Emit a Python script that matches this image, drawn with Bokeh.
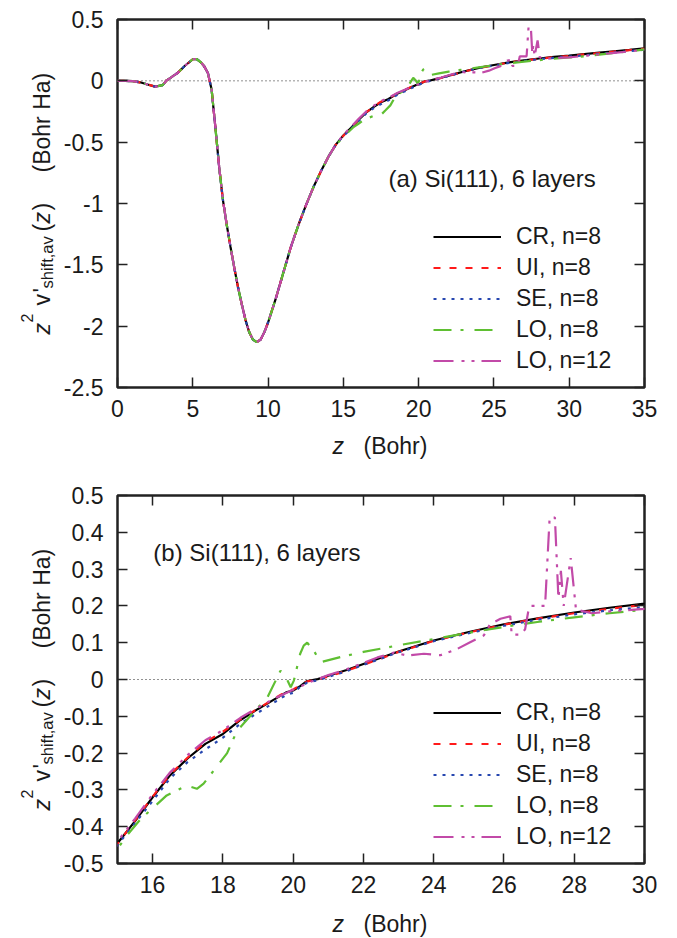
from math import pi
from bokeh.plotting import figure
from bokeh.models import Range1d, FixedTicker, LinearAxis, Span, Label, Legend, LegendItem
from bokeh.core.properties import value
from bokeh.layouts import column
from bokeh.embed import file_html
from bokeh.resources import INLINE

# ---------------- data ----------------
z_base = [0.0, 0.5, 1.0, 1.5, 2.0, 2.5, 3.0, 3.25, 3.5, 3.75,
          4.0, 4.5, 5.0, 5.25, 5.5, 5.75, 6.0, 6.25, 6.5, 6.75,
          7.0, 7.25, 7.5, 7.75, 8.0, 8.25, 8.5, 8.75, 9.0, 9.25,
          9.5, 9.75, 10.0, 10.5, 11.0, 11.5, 12.0, 12.5, 13.0, 13.5,
          14.0, 14.5, 15.0, 15.5, 16.0, 16.5, 17.0, 17.5, 18.0, 18.5,
          19.0, 19.5, 19.8, 20.0, 20.2, 20.4, 20.7, 21.0, 21.5, 22.0,
          23.0, 24.0, 25.0, 26.0, 27.0, 28.0, 29.0, 30.0, 31.0, 32.0,
          33.0, 34.0, 35.0]

cr_n8 = [0.0, 0.0, -0.003, -0.012, -0.03, -0.047, -0.035, 0.003, 0.022, 0.045,
         0.065, 0.125, 0.176, 0.178, 0.155, 0.12, 0.065, -0.07, -0.38, -0.7,
         -0.97, -1.17, -1.35, -1.52, -1.68, -1.82, -1.95, -2.05, -2.11, -2.13,
         -2.11, -2.05, -1.97, -1.78, -1.57, -1.36, -1.18, -1.02, -0.87, -0.74,
         -0.62, -0.52, -0.445, -0.385, -0.32, -0.26, -0.214, -0.175, -0.148, -0.11,
         -0.08, -0.052, -0.035, -0.03, -0.018, -0.004, 0.001, 0.01, 0.025, 0.042,
         0.076, 0.106, 0.129, 0.15, 0.167, 0.182, 0.195, 0.206, 0.218, 0.23,
         0.241, 0.252, 0.265]

ui_n8 = [0.0, 0.0, -0.003, -0.012, -0.03, -0.047, -0.035, 0.003, 0.022, 0.045,
         0.065, 0.125, 0.176, 0.178, 0.155, 0.12, 0.065, -0.07, -0.38, -0.7,
         -0.97, -1.17, -1.35, -1.52, -1.68, -1.82, -1.95, -2.05, -2.11, -2.13,
         -2.11, -2.05, -1.97, -1.78, -1.57, -1.36, -1.18, -1.02, -0.87, -0.74,
         -0.62, -0.52, -0.447, -0.383, -0.318, -0.258, -0.212, -0.17, -0.142, -0.108,
         -0.079, -0.05, -0.033, -0.027, -0.016, -0.005, 0.0, 0.008, 0.023, 0.04,
         0.075, 0.105, 0.128, 0.149, 0.166, 0.18, 0.192, 0.203, 0.215, 0.227,
         0.239, 0.25, 0.262]

se_n8 = [0.0, 0.0, -0.003, -0.012, -0.03, -0.047, -0.035, 0.003, 0.022, 0.045,
         0.065, 0.125, 0.176, 0.178, 0.155, 0.12, 0.065, -0.07, -0.38, -0.7,
         -0.97, -1.17, -1.35, -1.52, -1.68, -1.82, -1.95, -2.05, -2.11, -2.13,
         -2.11, -2.05, -1.97, -1.78, -1.57, -1.36, -1.18, -1.02, -0.87, -0.74,
         -0.62, -0.52, -0.45, -0.39, -0.33, -0.268, -0.224, -0.19, -0.158, -0.12,
         -0.09, -0.06, -0.042, -0.036, -0.02, -0.008, -0.002, 0.007, 0.022, 0.04,
         0.074, 0.104, 0.126, 0.146, 0.163, 0.177, 0.188, 0.197, 0.208, 0.22,
         0.231, 0.242, 0.254]

z_lo8 = [0.0, 0.5, 1.0, 1.5, 2.0, 2.5, 3.0, 3.25, 3.5, 3.75,
         4.0, 4.5, 5.0, 5.25, 5.5, 5.75, 6.0, 6.25, 6.5, 6.75,
         7.0, 7.25, 7.5, 7.75, 8.0, 8.25, 8.5, 8.75, 9.0, 9.25,
         9.5, 9.75, 10.0, 10.5, 11.0, 11.5, 12.0, 12.5, 13.0, 13.5,
         14.0, 14.5, 15.0, 15.3, 15.65, 16.0, 16.4, 16.97, 17.26, 17.45,
         17.8, 18.12, 18.4, 18.88, 19.26, 19.64, 19.8, 19.93, 20.02, 20.2,
         20.3, 20.4, 20.59, 20.78, 21.35, 22.0, 23.0, 24.0, 25.0, 26.0,
         27.0, 28.0, 29.0, 30.0, 31.0, 32.0, 33.0, 34.0, 35.0]
lo_n8 = [0.0, 0.0, -0.003, -0.012, -0.03, -0.047, -0.035, 0.003, 0.022, 0.045,
         0.065, 0.125, 0.176, 0.178, 0.155, 0.12, 0.065, -0.07, -0.38, -0.7,
         -0.97, -1.17, -1.35, -1.52, -1.68, -1.82, -1.95, -2.05, -2.11, -2.13,
         -2.11, -2.05, -1.97, -1.78, -1.57, -1.36, -1.18, -1.02, -0.87, -0.74,
         -0.62, -0.52, -0.46, -0.42, -0.38, -0.35, -0.315, -0.288, -0.297, -0.283,
         -0.24, -0.2, -0.14, -0.088, -0.05, 0.024, 0.005, -0.021, -0.003, 0.07,
         0.092, 0.1, 0.078, 0.047, 0.061, 0.075, 0.093, 0.11, 0.127, 0.143,
         0.157, 0.169, 0.18, 0.19, 0.2, 0.213, 0.227, 0.24, 0.256]

z_lo12 = [0.0, 0.5, 1.0, 1.5, 2.0, 2.5, 3.0, 3.25, 3.5, 3.75,
          4.0, 4.5, 5.0, 5.25, 5.5, 5.75, 6.0, 6.25, 6.5, 6.75,
          7.0, 7.25, 7.5, 7.75, 8.0, 8.25, 8.5, 8.75, 9.0, 9.25,
          9.5, 9.75, 10.0, 10.5, 11.0, 11.5, 12.0, 12.5, 13.0, 13.5,
          14.0, 14.5, 15.0, 15.5, 16.0, 16.5, 17.0, 17.5, 18.0, 18.5,
          19.0, 19.5, 20.0, 20.5, 21.0, 21.5, 22.0, 22.4, 22.87, 23.25,
          23.72, 24.19, 24.67, 25.05, 25.43, 25.6, 25.9, 26.18, 26.22, 26.45,
          26.6, 26.72, 27.17, 27.3, 27.45, 27.55, 27.62, 27.7, 27.9, 28.05,
          28.5, 29.0, 30.0, 31.0, 32.0, 33.0, 34.0, 35.0]
lo_n12 = [0.0, 0.0, -0.003, -0.012, -0.03, -0.047, -0.035, 0.003, 0.022, 0.045,
          0.065, 0.125, 0.176, 0.178, 0.155, 0.12, 0.065, -0.07, -0.38, -0.7,
          -0.97, -1.17, -1.35, -1.52, -1.68, -1.82, -1.95, -2.05, -2.11, -2.13,
          -2.11, -2.05, -1.97, -1.78, -1.57, -1.36, -1.18, -1.02, -0.87, -0.74,
          -0.62, -0.52, -0.44, -0.378, -0.312, -0.252, -0.205, -0.165, -0.138, -0.104,
          -0.076, -0.05, -0.028, -0.006, 0.012, 0.027, 0.045, 0.06, 0.073, 0.065,
          0.07, 0.066, 0.083, 0.102, 0.12, 0.15, 0.165, 0.172, 0.122, 0.122,
          0.136, 0.2, 0.2, 0.44, 0.44, 0.22, 0.295, 0.2, 0.33, 0.19,
          0.18, 0.185, 0.192, 0.203, 0.215, 0.228, 0.24, 0.255]

series_labels = ["CR, n=8", "UI, n=8", "SE, n=8", "LO, n=8", "LO, n=12"]

top_xticks = [0, 5, 10, 15, 20, 25, 30, 35]
top_xlabels = ["0", "5", "10", "15", "20", "25", "30", "35"]
top_yticks = [0.5, 0.0, -0.5, -1.0, -1.5, -2.0, -2.5]
top_ylabels = ["0.5", "0", "-0.5", "-1", "-1.5", "-2", "-2.5"]

bot_xticks = [16, 18, 20, 22, 24, 26, 28, 30]
bot_xlabels = ["16", "18", "20", "22", "24", "26", "28", "30"]
bot_yticks = [0.5, 0.4, 0.3, 0.2, 0.1, 0.0, -0.1, -0.2, -0.3, -0.4, -0.5]
bot_ylabels = ["0.5", "0.4", "0.3", "0.2", "0.1", "0", "-0.1", "-0.2", "-0.3", "-0.4", "-0.5"]

# ---------------- styling ----------------
FONT = "Liberation Sans"
TXT = "#1a1a1a"
FS = "23px"
FRAME = "#222222"
FRAME_W, FRAME_H = 527, 368

styles = [
    dict(color="#000000", dash="solid"),
    dict(color="#ff1a1a", dash="7 9"),
    dict(color="#2747b0", dash="3 6"),
    dict(color="#5fbf32", dash="18 9 3 11"),
    dict(color="#c24aa8", dash="20 8 3 7 3 7"),
]


def style_axis(ax, ticks, labels, hidden=False, standoff=12):
    ax.ticker = FixedTicker(ticks=ticks, minor_ticks=[])
    ax.axis_line_color = None
    ax.major_tick_in = 10
    ax.major_tick_out = 0
    ax.major_tick_line_color = FRAME
    ax.major_tick_line_width = 1.5
    ax.minor_tick_line_color = None
    if hidden:
        ax.major_label_overrides = {t: "" for t in ticks}
        ax.major_label_text_font_size = "1px"
        ax.major_label_standoff = 0
    else:
        ax.major_label_overrides = dict(zip(ticks, labels))
        ax.major_label_text_font = FONT
        ax.major_label_text_font_size = FS
        ax.major_label_text_color = TXT
        ax.major_label_standoff = standoff


def px_text(p, dx, dy, text, size=FS, italic=False, angle=0.0, baseline="alphabetic"):
    """Text piece at a pixel offset (dx right, dy up) from the frame's bottom-left corner."""
    xr, yr = p.x_range, p.y_range
    x = xr.start + dx * (xr.end - xr.start) / FRAME_W
    y = yr.start + dy * (yr.end - yr.start) / FRAME_H
    p.text(x=[x], y=[y], text=[text], angle=angle, level="overlay",
           text_font=value(FONT), text_font_size=value(size),
           text_font_style="italic" if italic else "normal", text_color=TXT,
           text_align="left", text_baseline=baseline)


def make_panel(height, top, bottom, xr, yr, xt, xl, yt, yl, note, note_x, note_y, xlab_dy):
    p = figure(width=677, height=height, x_range=Range1d(*xr), y_range=Range1d(*yr),
               output_backend="svg", toolbar_location=None,
               min_border_left=117, min_border_right=33,
               min_border_top=top, min_border_bottom=bottom)
    p.xgrid.visible = False
    p.ygrid.visible = False
    p.outline_line_color = FRAME
    p.outline_line_width = 2.5
    p.outline_line_alpha = 1.0
    p.background_fill_color = "white"
    p.border_fill_color = "white"

    style_axis(p.xaxis[0], xt, xl, standoff=12)
    style_axis(p.yaxis[0], yt, yl, standoff=14)
    ax_top = LinearAxis()
    style_axis(ax_top, xt, xl, hidden=True)
    p.add_layout(ax_top, "above")
    ax_right = LinearAxis()
    style_axis(ax_right, yt, yl, hidden=True)
    p.add_layout(ax_right, "right")

    p.add_layout(Span(location=0, dimension="width", line_color=FRAME, line_width=1,
                      line_dash="1 3", level="underlay"))

    data = [(z_base, cr_n8), (z_base, ui_n8), (z_base, se_n8), (z_lo8, lo_n8), (z_lo12, lo_n12)]
    items = []
    for (zz, vv), st, lab in zip(data, styles, series_labels):
        r = p.line(zz, vv, line_color=st["color"], line_width=2.2, line_dash=st["dash"])
        items.append(LegendItem(label=lab, renderers=[r]))

    legend = Legend(items=items, location=(316, 11), orientation="vertical",
                    glyph_width=68, glyph_height=31, label_height=31, label_standoff=15,
                    spacing=0, padding=0, margin=0, border_line_color=None,
                    background_fill_alpha=0.0,
                    label_text_font=FONT, label_text_font_size=FS, label_text_color=TXT)
    p.add_layout(legend)

    p.add_layout(Label(x=note_x, y=note_y, text=note, text_font=FONT, text_font_size="24px",
                       text_color=TXT, text_baseline="middle", text_align="left"))

    # x axis title
    px_text(p, 215, xlab_dy, "z", italic=True, baseline="middle")
    px_text(p, 246, xlab_dy, "(Bohr)", baseline="middle")

    # y axis title (rotated), pieces positioned relative to the frame
    a = pi / 2
    px_text(p, -76, 53, "z", italic=True, angle=a)
    px_text(p, -91, 65, "2", size="16px", angle=a)
    px_text(p, -76, 82, "v", angle=a)
    px_text(p, -76, 95, "'", angle=a)
    px_text(p, -71, 99, "shift,av", size="16.5px", angle=a)
    px_text(p, -76, 156, "(", angle=a)
    px_text(p, -76, 164, "z", italic=True, angle=a)
    px_text(p, -76, 177, ")", angle=a)
    px_text(p, -76, 215, "(Bohr Ha)", angle=a)
    return p


p1 = make_panel(470, 19, 83, (0, 35), (-2.5, 0.5), top_xticks, top_xlabels, top_yticks, top_ylabels,
                "(a) Si(111), 6 layers", 18.0, -0.80, -58)
p2 = make_panel(468, 25, 75, (15, 30), (-0.5, 0.5), bot_xticks, bot_xlabels, bot_yticks, bot_ylabels,
                "(b) Si(111), 6 layers", 16.02, 0.345, -60)

layout = column(p1, p2, spacing=0)
open("out.html", "w").write(file_html(layout, INLINE))
